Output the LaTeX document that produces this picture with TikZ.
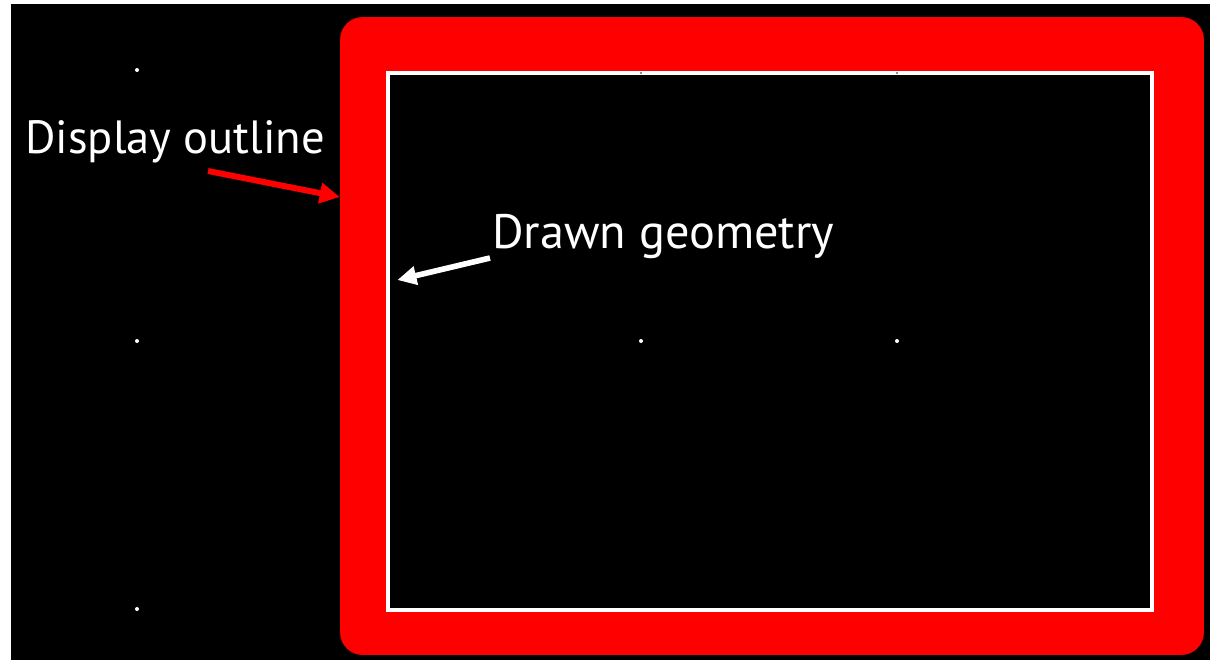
\documentclass[tikz,border=0pt]{standalone}
\usepackage{fontspec}
\setmainfont{PT Sans}
\usepackage{xcolor}
\definecolor{outlineRed}{RGB}{255,0,0}
\usetikzlibrary{arrows.meta}
\begin{document}
\begin{tikzpicture}[x=0.02cm, y=-0.02cm]
\useasboundingbox[fill=white] (0,0) rectangle (1216,660);
\fill[black] (11,4) rectangle (1210,660);
\node[fill=outlineRed, rounded corners=0.45cm, inner sep=0pt, minimum width=17.28cm, minimum height=12.76cm] (outline) at (772,336) {};
\node[draw=white, line width=1.9pt, fill=black, inner sep=0pt, minimum width=15.28cm, minimum height=10.74cm] (geom) at (770,341.5) {};
% grid dots
\foreach \gx/\gy in {137/70, 137/341, 137/609, 641/341, 897/341}
  \fill[white] (\gx,\gy) circle[radius=2];
\foreach \gx in {641, 897}
  \fill[black!60] (\gx,73) circle[radius=1.2];
\node[anchor=base west, text=white, inner sep=0pt, font=\fontsize{26.5}{32}\selectfont] (lblout) at (25,153) {Display outline};
\node[anchor=base west, text=white, inner sep=0pt, font=\fontsize{27.5}{32}\selectfont] (lblgeom) at (492,248) {Drawn geometry};
\coordinate (redstart) at (208,171);
\coordinate (whitestart) at (490,258);
\draw[-{Triangle[length=0.4cm, width=0.4cm]}, outlineRed, line width=3.4pt] (redstart) -- (outline.west |- 0,197);
\draw[-{Triangle[length=0.38cm, width=0.36cm]}, white, line width=3.2pt] (whitestart) -- ([xshift=0.22cm]geom.west |- 0,280);
\end{tikzpicture}
\end{document}
